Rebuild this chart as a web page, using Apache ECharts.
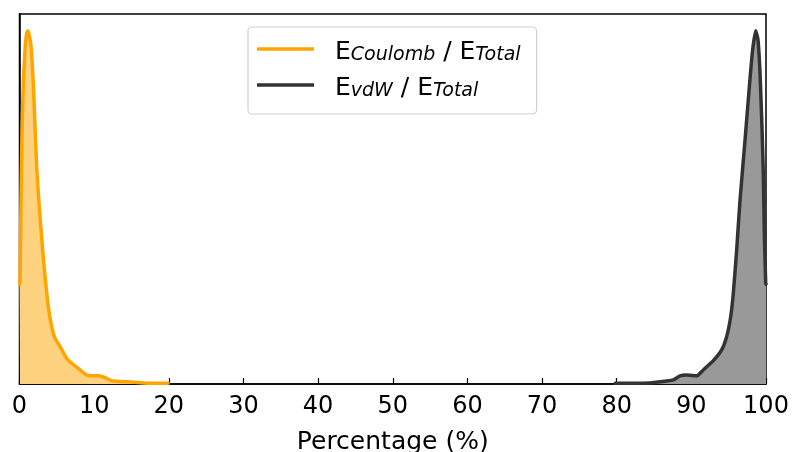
<!DOCTYPE html>
<html>
<head>
<meta charset="utf-8">
<script src="https://cdn.jsdelivr.net/npm/echarts@6/dist/echarts.min.js"></script>
<style>html,body{margin:0;padding:0;background:#fff}#c{width:792px;height:452px}</style>
</head>
<body>
<div id="c"></div>
<script>
var coulombX = [0, 0.07, 0.2, 0.33, 0.51, 0.74, 0.96, 1.14, 1.50, 1.85, 2.08, 2.30, 2.52, 2.75, 3.10, 3.42, 3.86, 4.31, 4.76, 5.43, 6.32, 6.99, 7.88, 8.77, 9.44, 10.56, 11.45, 12.35, 14.36, 17.5, 19.9];
var coulombY = [0.27, 0.272, 0.497, 0.677, 0.813, 0.903, 0.948, 0.955, 0.921, 0.813, 0.695, 0.587, 0.515, 0.452, 0.362, 0.290, 0.209, 0.155, 0.123, 0.101, 0.069, 0.056, 0.042, 0.027, 0.022, 0.022, 0.017, 0.009, 0.006, 0.002, 0.002];
var vdwX = [79.8, 84.46, 86.7, 87.58, 88.48, 89.37, 90.71, 91.6, 92.94, 94.06, 94.73, 95.27, 95.62, 96.07, 96.52, 97.19, 97.77, 98.21, 98.62, 98.93, 99.2, 99.46, 99.64, 99.78, 99.96, 100];
var vdwY = [0.002, 0.003, 0.008, 0.011, 0.022, 0.024, 0.022, 0.038, 0.063, 0.092, 0.128, 0.182, 0.245, 0.362, 0.497, 0.659, 0.804, 0.903, 0.955, 0.930, 0.84, 0.695, 0.569, 0.407, 0.272, 0.27];
var xTicks = [0, 10, 20, 30, 40, 50, 60, 70, 80, 90, 100];

function pairs(xs, ys) { return xs.map(function (x, i) { return [x, ys[i]]; }); }

var font = 'DejaVu Sans';
var chart = echarts.init(document.getElementById('c'), null, { renderer: 'canvas' });
chart.setOption({
  animation: false,
  backgroundColor: '#fff',
  grid: { left: 19.5, right: 26, top: 14, bottom: 68, outerBoundsMode: 'none', containLabel: false,
    show: true, borderColor: '#000', borderWidth: 1.5, backgroundColor: 'transparent' },
  xAxis: {
    type: 'value', min: 0, max: 100, interval: 10,
    name: 'Percentage (%)', nameLocation: 'middle', nameGap: 46,
    nameTextStyle: { fontFamily: font, fontSize: 25, color: '#000' },
    axisLine: { show: true, lineStyle: { color: '#000', width: 1.5 } },
    axisTick: { show: true, inside: true, length: 6, lineStyle: { color: '#000', width: 1.2 } },
    axisLabel: { fontFamily: font, fontSize: 24, color: '#000', margin: 11,
      formatter: function (v) { return xTicks.indexOf(v) >= 0 ? String(v) : ''; } },
    splitLine: { show: false }
  },
  yAxis: {
    type: 'value', min: 0, max: 1.0,
    axisLine: { show: true, lineStyle: { color: '#000', width: 1.5 } },
    axisTick: { show: false }, axisLabel: { show: false }, splitLine: { show: false }
  },
  legend: {
    left: 248, top: 27, orient: 'vertical',
    icon: 'rect', itemWidth: 57, itemHeight: 3.5, itemGap: 10,
    padding: [12, 16, 13, 9],
    backgroundColor: '#fff', borderColor: '#d0d0d0', borderWidth: 1.2, borderRadius: 4,
    formatter: function (name) {
      if (name === 'coulomb') return '{e|E}{s|Coulomb}{e| / E}{s|Total}';
      return '{e|E}{s|vdW}{e| / E}{s|Total}';
    },
    textStyle: {
      padding: [0, 0, 0, 16],
      rich: {
        e: { fontFamily: font, fontSize: 25, color: '#000', lineHeight: 32, verticalAlign: 'bottom' },
        s: { fontFamily: font, fontSize: 19, fontStyle: 'italic', color: '#000', lineHeight: 32, verticalAlign: 'bottom', padding: [7, 0, 0, 0] }
      }
    },
    data: ['coulomb', 'vdw']
  },
  series: [
    { name: 'coulomb', type: 'line', data: pairs(coulombX, coulombY), smooth: 0.15,
      showSymbol: false, symbol: 'none', lineStyle: { color: '#FFA500', width: 3.5, join: 'round', cap: 'round' },
      itemStyle: { color: '#FFA500' }, areaStyle: { color: '#FFD280', opacity: 1 } },
    { name: 'vdw', type: 'line', data: pairs(vdwX, vdwY), smooth: 0.15,
      showSymbol: false, symbol: 'none', lineStyle: { color: '#333333', width: 3.5, join: 'round', cap: 'round' },
      itemStyle: { color: '#333333' }, areaStyle: { color: '#999999', opacity: 1 } }
  ]
});
</script>
</body>
</html>
